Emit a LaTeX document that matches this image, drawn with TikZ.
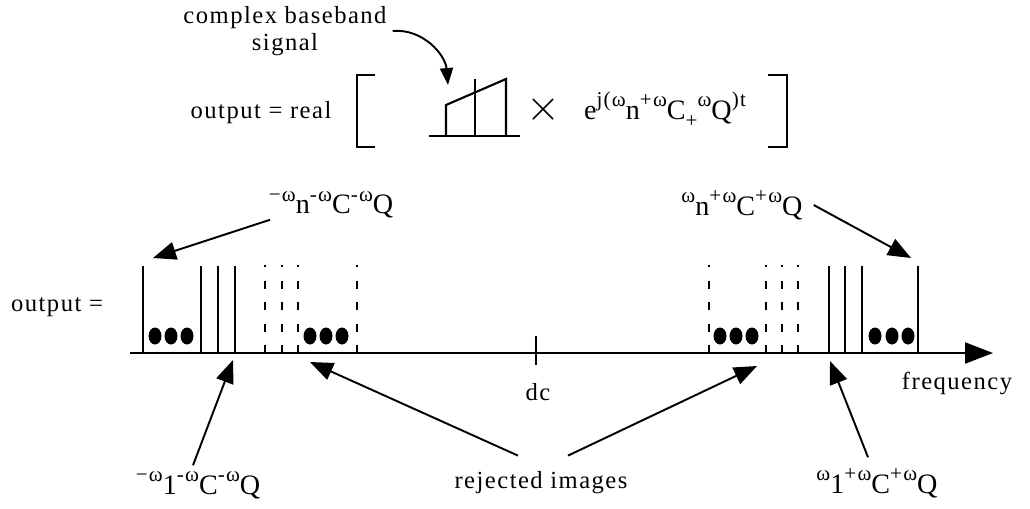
\documentclass[tikz,border=0pt]{standalone}
\usepackage{amsmath,amssymb}
\usepackage{fontspec}
\setmainfont{Liberation Serif}[LetterSpace=6]
\usepackage{tikz}
\usetikzlibrary{arrows.meta,calc}
\newcommand{\hi}[1]{\raisebox{0.45em}{\fontsize{12}{12}\selectfont #1}}
\newcommand{\lo}[1]{\raisebox{-0.3em}{\fontsize{12}{12}\selectfont #1}}

\begin{document}
\begin{tikzpicture}[x=0.02cm,y=-0.02cm,
    font=\fontsize{14}{15.5}\selectfont,
    freqlabel/.style={font=\fontsize{16}{18}\selectfont},
    ptr/.style={-{Triangle[length=0.46cm,width=0.36cm]},line width=1.1pt},
    bendptr/.style={-{Triangle[length=0.34cm,width=0.26cm]},line width=1.1pt},
    peak/.style={line width=1.1pt},
    ghost/.style={line width=1.1pt,dash pattern=on 0.16cm off 0.27cm},
    axis/.style={line width=1.3pt}]
      \useasboundingbox (0,0) rectangle (1030,508);

      \node[align=center] (CBS) at (285,31) {complex baseband\\signal};
      \node (OR) at (261,113) {output = real};
      \node (X) at (543,110) {\fontsize{24}{24}\selectfont$\times$};
      \node (EXP) at (665,110) {\fontsize{16}{18}\selectfont e\hi{j(ω}n\hi{+ω}C\lo{+}\hi{ω}Q\hi{)t}};
      \coordinate (CBStip) at (448,85);

      \draw [line width=1.1pt] (375,75) -- (357,75) -- (357,147) -- (375,147);
      \draw [line width=1.1pt] (768,75) -- (787,75) -- (787,147) -- (768,147);
      \draw [line width=1.2pt] (429,136) -- (520,136);
      \draw [line width=1.2pt] (446,136) -- (446,105) -- (506,79) -- (506,136);
      \draw [line width=1.2pt] (475,136) -- (475,79);
      \draw [bendptr] (CBS.east) to[out=5,in=95] (CBStip);

      \node (OUT) at (57,307) {output =};
      \coordinate (F0) at (130,353);
      \coordinate (F1) at (993,353);
      \draw [axis,-{Triangle[length=0.56cm,width=0.42cm]}] (F0) -- (F1);
      \draw [axis] (536,336) -- (536,365);
      \node (DC) at (538,392) {dc};
      \node (FREQ) at (957,383) {frequency};

      \foreach \x in {143,201,218,235,829,845,862,918}
        \draw [peak] (\x,353) -- (\x,266);
      \foreach \x in {265,282,298,357,709,766,782,798}
        \draw [ghost] (\x,353) -- (\x,265);
      \foreach \x in {155,171,187,310,326,342,720,736,752,875,892,908}
        \fill (\x,336) ellipse [x radius=0.13cm,y radius=0.17cm];

      \node[freqlabel] (WNL) at (331,205) {\hi{−ω}n\hi{-ω}C\hi{-ω}Q};
      \node[freqlabel] (WNR) at (742,205) {\hi{ω}n\hi{+ω}C\hi{+ω}Q};
      \node[freqlabel] (W1L) at (198,485) {\hi{−ω}1\hi{-ω}C\hi{-ω}Q};
      \node[freqlabel] (W1R) at (877,483) {\hi{ω}1\hi{+ω}C\hi{+ω}Q};
      \node (REJ) at (541,483) {rejected images};

      \coordinate (TNL) at (153,258);
      \coordinate (TNR) at (911,258);
      \coordinate (T1L) at (233,360);
      \coordinate (T1R) at (830,361);
      \coordinate (TRL) at (310,362);
      \coordinate (TRR) at (757,366);

      \draw [ptr] ([xshift=0.15cm,yshift=0.1cm]WNL.south west) to (TNL);
      \draw [ptr] ([xshift=0.1cm]WNR.east) to (TNR);
      \draw [ptr] ([xshift=-0.1cm]W1L.north) to (T1L);
      \draw [ptr] ([xshift=-0.46cm,yshift=0.2cm]REJ.north) to (TRL);
      \draw [ptr] ([xshift=0.54cm,yshift=0.2cm]REJ.north) to (TRR);
      \draw [ptr] ([xshift=-0.18cm,yshift=0.1cm]W1R.north) to (T1R);
  \end{tikzpicture}
\end{document}
